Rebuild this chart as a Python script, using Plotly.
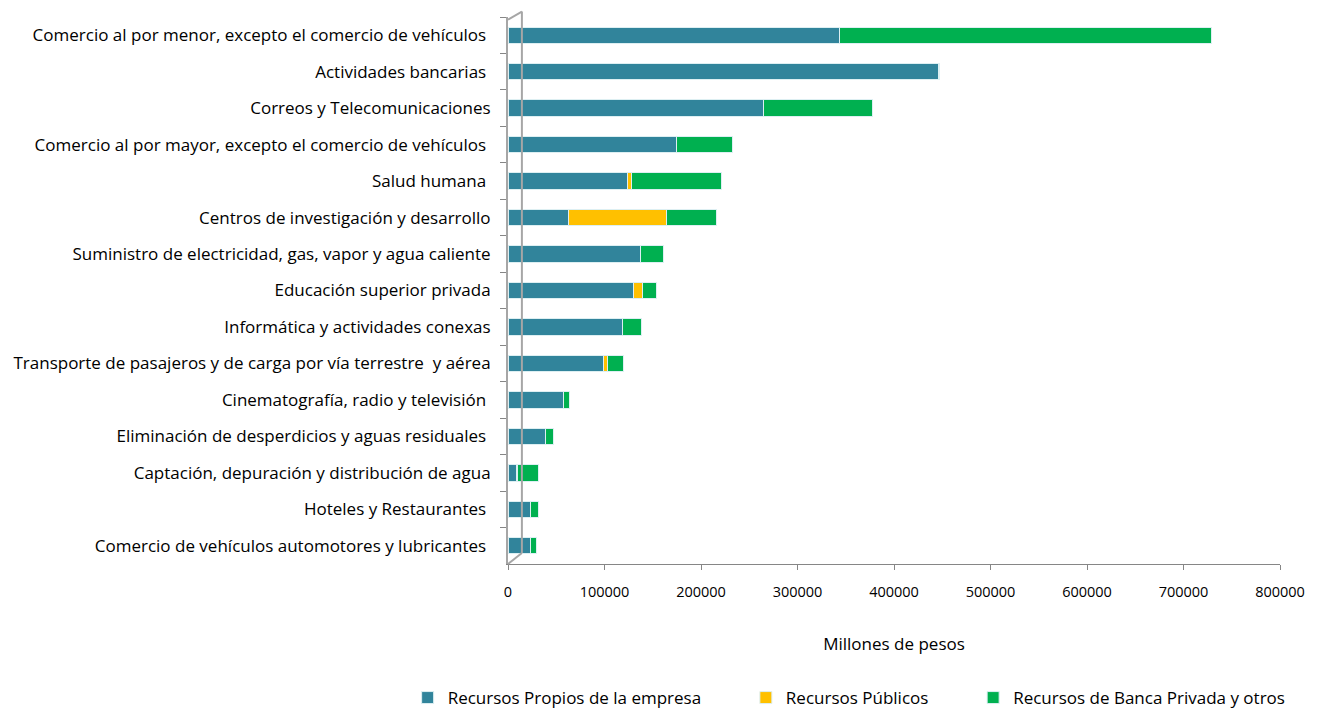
import plotly.graph_objects as go

categories = [
    "Comercio al por menor, excepto el comercio de vehículos ",
    "Actividades bancarias ",
    "Correos y Telecomunicaciones",
    "Comercio al por mayor, excepto el comercio de vehículos ",
    "Salud humana ",
    "Centros de investigación y desarrollo",
    "Suministro de electricidad, gas, vapor y agua caliente",
    "Educación superior privada",
    "Informática y actividades conexas",
    "Transporte de pasajeros y de carga por vía terrestre  y aérea",
    "Cinematografía, radio y televisión ",
    "Eliminación de desperdicios y aguas residuales ",
    "Captación, depuración y distribución de agua",
    "Hoteles y Restaurantes ",
    "Comercio de vehículos automotores y lubricantes ",
]
propios = [344000, 446000, 265000, 175000, 124000, 63000, 137000, 130000, 119000, 99000, 58000, 39000, 9000, 23000, 23000]
publicos = [0, 0, 0, 0, 4000, 101000, 0, 9000, 0, 4000, 0, 0, 1000, 0, 0]
banca = [385000, 1500, 113000, 58000, 93000, 52000, 24000, 15000, 19000, 17000, 6000, 8000, 22000, 9000, 7000]
series_names = ["Recursos Propios de la empresa", "Recursos Públicos", "Recursos de Banca Privada y otros"]
colors = ["#31849B", "#FFC000", "#00B050"]
x_ticks = [0, 100000, 200000, 300000, 400000, 500000, 600000, 700000, 800000]

font_family = "'Open Sans', sans-serif"
pads = ["\u00a0" * 9, "\u00a0" * 9, ""]

fig = go.Figure()
for name, vals, col, pad in zip(series_names, [propios, publicos, banca], colors, pads):
    fig.add_trace(go.Bar(
        y=categories, x=vals, name=name + pad, orientation="h",
        marker=dict(color=col, line=dict(color="#DDEFF2", width=1)),
    ))

# decorative back wall lines (3D look of the original)
wall = dict(color="#A6A6A6", width=2)
wx = 0.018
wy = 0.02
fig.add_shape(type="line", xref="paper", yref="paper", x0=wx, x1=wx, y0=wy, y1=1.0 + wy * 0.5, line=wall)
fig.add_shape(type="line", xref="paper", yref="paper", x0=0.0, x1=wx, y0=0.995, y1=1.0 + wy * 0.5, line=wall)
fig.add_shape(type="line", xref="paper", yref="paper", x0=0.0, x1=wx, y0=0.0, y1=wy, line=wall)

fig.update_layout(
    barmode="stack",
    bargap=0.55,
    width=1310, height=724,
    margin=dict(l=500, r=38, t=9, b=168),
    paper_bgcolor="white", plot_bgcolor="white",
    font=dict(family=font_family, size=17, color="#000000"),
    xaxis=dict(
        range=[0, 800000], tickvals=x_ticks, ticktext=[str(v) for v in x_ticks],
        showgrid=False, zeroline=False, automargin=False,
        showline=True, linecolor="#868686", linewidth=1,
        ticks="outside", ticklen=5, tickcolor="#868686",
        ticklabelstandoff=10,
        tickfont=dict(size=14.5),
        title=dict(text="Millones de pesos", font=dict(size=17), standoff=37),
    ),
    yaxis=dict(
        autorange="reversed", showgrid=False, zeroline=False, automargin=False,
        showline=True, linecolor="#A6A6A6", linewidth=2,
        ticks="outside", ticklen=6, tickcolor="#868686", tickson="boundaries",
        ticklabelstandoff=12,
        tickfont=dict(size=17),
    ),
    legend=dict(
        orientation="h", x=-0.13, xanchor="left",
        y=-0.245, yanchor="middle",
        font=dict(size=17), itemwidth=30,
        traceorder="normal",
    ),
    showlegend=True,
)

fig.write_html("out.html")
